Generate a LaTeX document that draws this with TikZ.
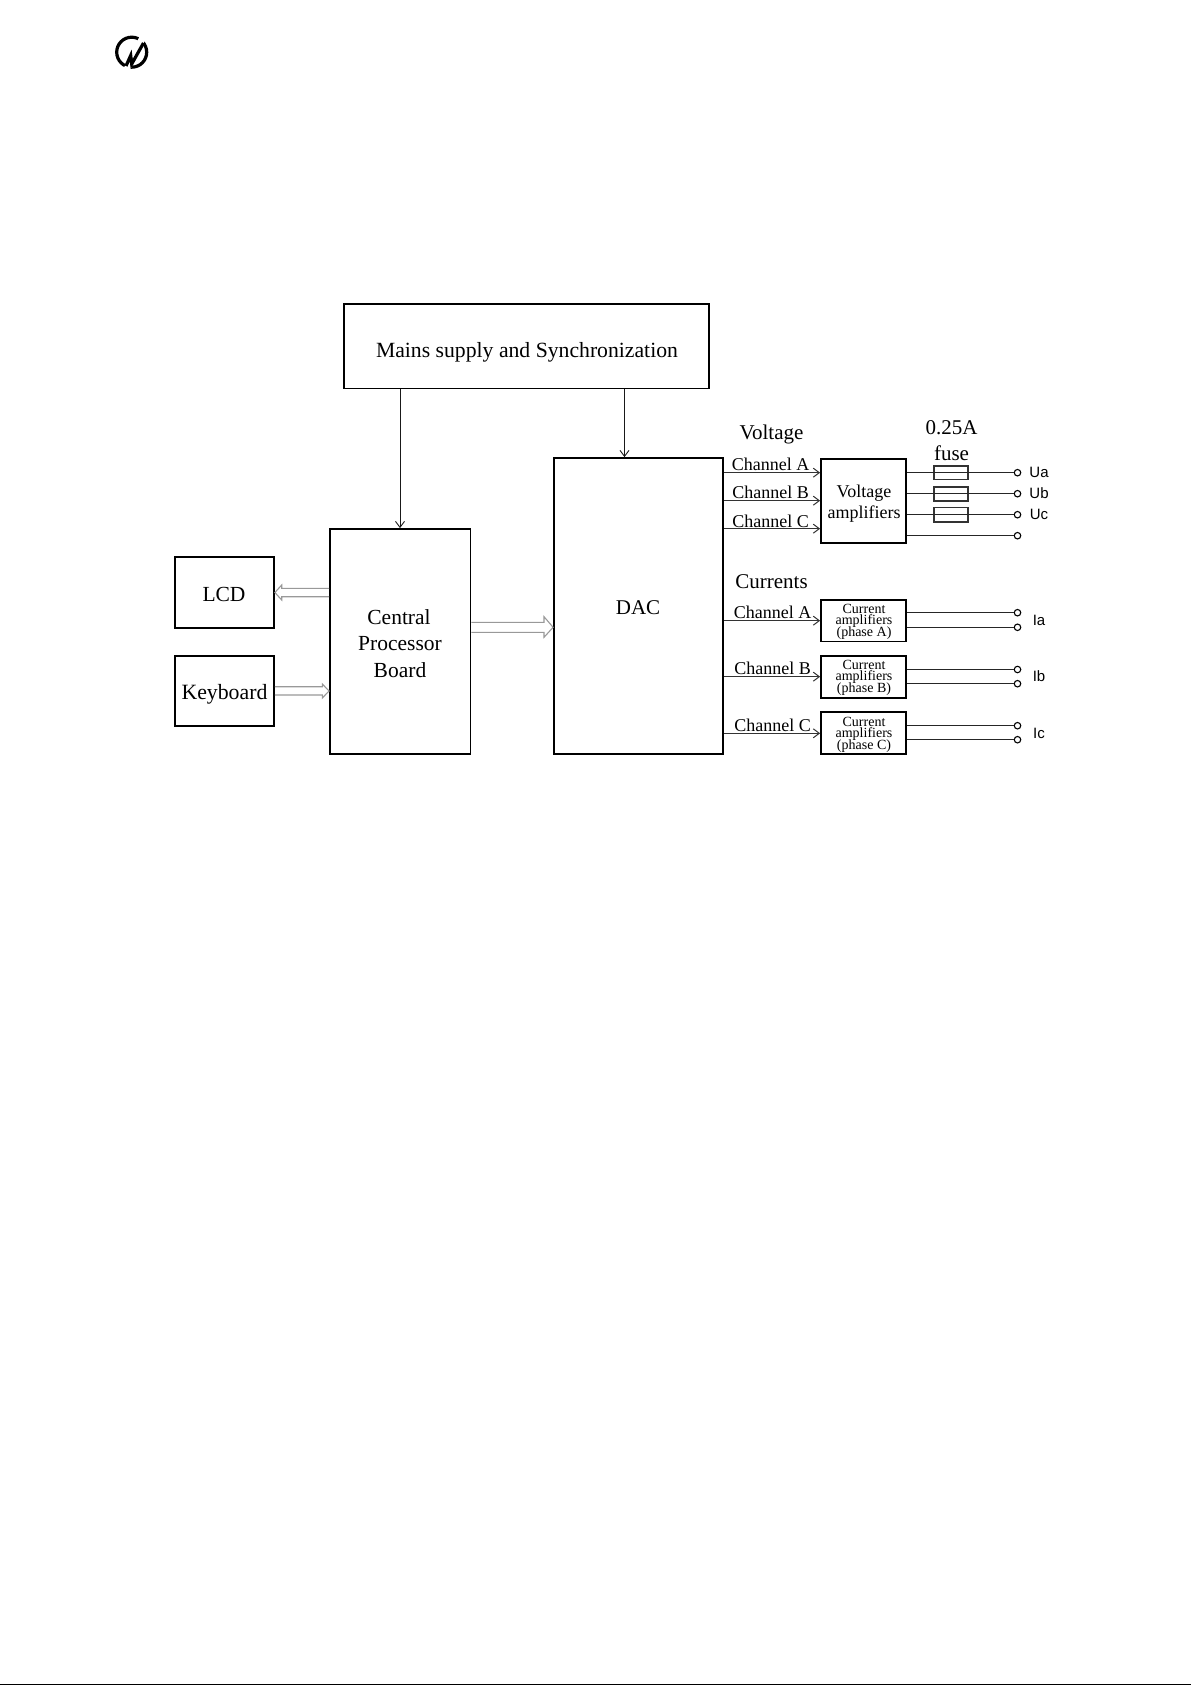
\documentclass[tikz,border=0pt]{standalone}
\usepackage{fontspec}
\setmainfont{Liberation Serif}
\newfontfamily\arialf{Liberation Sans}
\usetikzlibrary{arrows.meta,fit}
\tikzset{
  x=1pt,y=-1pt,
  blockbox/.style={draw=black,line width=1.8pt,inner sep=0pt,fill=white},
  lbl/.style={inner sep=0pt,font=\fontsize{#1}{#1}\selectfont,align=center},
  lbl/.default=20,
  feed/.style={draw=black!90,line width=1pt,-{Straight Barb[length=6pt,width=9pt,line width=0.9pt]}},
  chan/.style={draw=black!80,line width=1.4pt,-{Straight Barb[length=6pt,width=9pt,line width=1pt]}},
  wire/.style={draw=black!85,line width=1.4pt},
  term/.style={circle,draw=black,line width=1.1pt,fill=white,minimum size=6.5pt,inner sep=0pt},
  fuse/.style={draw=black!80,line width=1.1pt,inner sep=0pt},
  bus/.style={draw=black!40,line width=1.1pt},
  termlbl/.style={inner sep=0pt,font=\arialf\fontsize{15}{15}\selectfont},
}
\newcommand{\corners}[5]{\coordinate (#1-a) at (#2,#3); \coordinate (#1-b) at (#4,#5);}
\begin{document}
\begin{tikzpicture}
\useasboundingbox (0,0) rectangle (1191,1685);
\fill[white] (0,0) rectangle (1191,1685);
% corners
\corners{m}{344}{304}{709}{388.5}
\corners{c}{330}{529}{470.5}{754}
\corners{l}{175}{557}{274}{628}
\corners{k}{175}{656}{274}{726}
\corners{d}{554}{458}{723}{754}
\corners{v}{821}{459}{906}{543}
\corners{ia}{821}{600}{906}{641.5}
\corners{ib}{821}{656}{906}{698}
\corners{ic}{821}{712}{906}{754}
% boxes
\node[blockbox,fit=(m-a)(m-b)] (mains) {};
\node[blockbox,fit=(c-a)(c-b)] (cpu) {};
\node[blockbox,fit=(l-a)(l-b)] (lcd) {};
\node[blockbox,fit=(k-a)(k-b)] (kbd) {};
\node[blockbox,fit=(d-a)(d-b)] (dac) {};
\node[blockbox,fit=(v-a)(v-b)] (vamp) {};
\node[blockbox,fit=(ia-a)(ia-b)] (ampa) {};
\node[blockbox,fit=(ib-a)(ib-b)] (ampb) {};
\node[blockbox,fit=(ic-a)(ic-b)] (ampc) {};
% box texts
\node[lbl=21.7] (tm) at (527,352) {Mains supply and Synchronization};
\node[lbl=21.5] (tl) at (224,594.5) {LCD};
\node[lbl=21.8] (tk) at (224.5,694) {Keyboard};
\node[lbl=21.5] (tc1) at (399,617.5) {Central};
\node[lbl=21.5] (tc2) at (400,644) {Processor};
\node[lbl=21.5] (tc3) at (400,670) {Board};
\node[lbl=21] (td) at (638,607.5) {DAC};
\node[lbl=18] (tv1) at (864,493) {Voltage};
\node[lbl=18] (tv2) at (864,514.5) {amplifiers};
\node[lbl=14] (ta1) at (864,609) {Current};
\node[lbl=14] (ta2) at (864,621.5) {amplifiers};
\node[lbl=14] (ta3) at (864,633.5) {(phase A)};
\node[lbl=14] (tb1) at (864,665) {Current};
\node[lbl=14] (tb2) at (864,677.5) {amplifiers};
\node[lbl=14] (tb3) at (864,689.5) {(phase B)};
\node[lbl=14] (tc1a) at (864,721.5) {Current};
\node[lbl=14] (tc2a) at (864,734) {amplifiers};
\node[lbl=14] (tc3a) at (864,746) {(phase C)};
% headings
\node[lbl=21] (hv) at (771.5,434) {Voltage};
\node[lbl=21] (hc) at (771.5,582) {Currents};
\node[lbl=21] (h025) at (951.5,427.5) {0.25A};
\node[lbl=21] (hf) at (951.5,453) {fuse};
\node[lbl=18] (v1) at (770.5,464) {Channel A};
\node[lbl=18] (v2) at (770.5,492.5) {Channel B};
\node[lbl=18] (v3) at (770.5,521) {Channel C};
\node[lbl=18] (c1) at (772.5,612) {Channel A};
\node[lbl=18] (c2) at (772.5,668) {Channel B};
\node[lbl=18] (c3) at (772.5,725) {Channel C};
% terminals
\node[term] (ua) at (1017.5,472.7) {};
\node[term] (ub) at (1017.5,493.7) {};
\node[term] (uc) at (1017.5,514.7) {};
\node[term] (un) at (1017.5,535.7) {};
\node[term] (ia1) at (1017.5,612.7) {};
\node[term] (ia2) at (1017.5,627.3) {};
\node[term] (ib1) at (1017.5,669.5) {};
\node[term] (ib2) at (1017.5,683.7) {};
\node[term] (ic1) at (1017.5,725.7) {};
\node[term] (ic2) at (1017.5,739.7) {};
\node[termlbl] (lua) at (1039,472.5) {Ua};
\node[termlbl] (lub) at (1039,493.5) {Ub};
\node[termlbl] (luc) at (1039,514.5) {Uc};
\node[termlbl] (lia) at (1039,620.5) {Ia};
\node[termlbl] (lib) at (1039,676.5) {Ib};
\node[termlbl] (lic) at (1039,733) {Ic};
% fuses
\coordinate (fa-a) at (934,466); \coordinate (fa-b) at (968,479.5);
\coordinate (fb-a) at (934,487); \coordinate (fb-b) at (968,501);
\coordinate (fc-a) at (934,507.5); \coordinate (fc-b) at (968,522);
\node[fuse,fit=(fa-a)(fa-b)] (fusea) {};
\node[fuse,fit=(fb-a)(fb-b)] (fuseb) {};
\node[fuse,fit=(fc-a)(fc-b)] (fusec) {};
% output wires
\foreach \t in {ua,ub,uc,un} \draw[wire] (vamp.east |- \t) -- (\t);
\draw[wire] (ampa.east |- ia1) -- (ia1);
\draw[wire] (ampa.east |- ia2) -- (ia2);
\draw[wire] (ampb.east |- ib1) -- (ib1);
\draw[wire] (ampb.east |- ib2) -- (ib2);
\draw[wire] (ampc.east |- ic1) -- (ic1);
\draw[wire] (ampc.east |- ic2) -- (ic2);
% channels
\coordinate (pva) at (0,472.7); \coordinate (pvb) at (0,500.7); \coordinate (pvc) at (0,528.7);
\coordinate (pia) at (0,620.7); \coordinate (pib) at (0,676.7); \coordinate (pic) at (0,733.3);
\draw[chan] (dac.east |- pva) -- (vamp.west |- pva);
\draw[chan] (dac.east |- pvb) -- (vamp.west |- pvb);
\draw[chan] (dac.east |- pvc) -- (vamp.west |- pvc);
\draw[chan] (dac.east |- pia) -- (ampa.west |- pia);
\draw[chan] (dac.east |- pib) -- (ampb.west |- pib);
\draw[chan] (dac.east |- pic) -- (ampc.west |- pic);
% feeds
\coordinate (fx1) at (400,0); \coordinate (fx2) at (624.5,0);
\draw[feed] (mains.south -| fx1) -- (cpu.north -| fx1);
\draw[feed] (mains.south -| fx2) -- (dac.north -| fx2);
% hollow buses
\draw[bus] (cpu.west |- 0,588.3) -- (281.7,588.3) -- (281.7,585) -- (lcd.east |- 0,592.5) -- (281.7,600) -- (281.7,596.7) -- (cpu.west |- 0,596.7);
\draw[bus] (kbd.east |- 0,686.7) -- (322.3,686.7) -- (322.3,684) -- (cpu.west |- 0,691) -- (322.3,698) -- (322.3,695) -- (kbd.east |- 0,695);
\draw[bus] (cpu.east |- 0,622.3) -- (544,622.3) -- (544,616.7) -- (dac.west |- 0,627.3) -- (544,637.3) -- (544,632.3) -- (cpu.east |- 0,632.3);
% logo
\draw[line width=3.2pt] (131.7,52.2) circle (15);
\draw[white,line width=6.5pt] (125,73) -- (147,29);
\draw[line width=3.2pt,line join=miter] (126,66) -- (130.7,55.5) -- (131.7,64) -- (143.5,43);
% bottom edge
\draw[black,line width=1pt] (0,1684.5) -- (1191,1684.5);
\end{tikzpicture}
\end{document}
